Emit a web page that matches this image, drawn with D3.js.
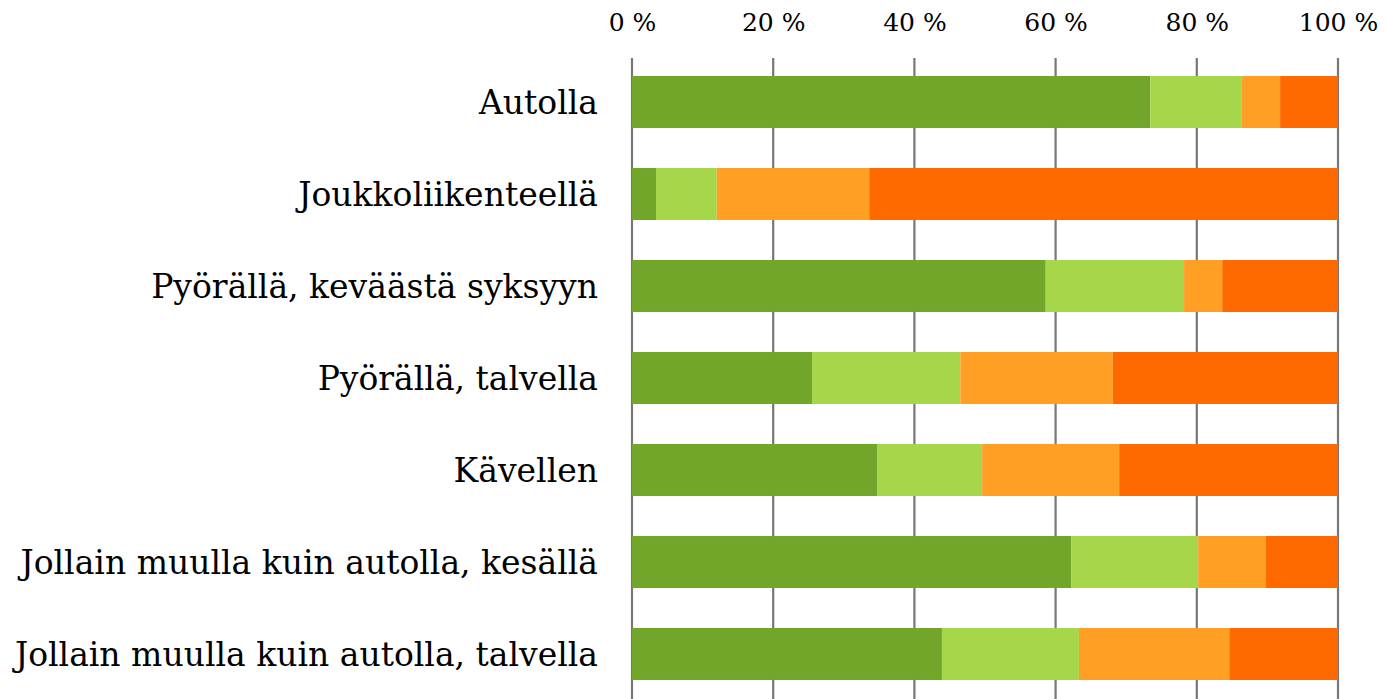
<!DOCTYPE html>
<html><head><meta charset="utf-8">
<script src="https://cdn.jsdelivr.net/npm/d3@7"></script>
<style>body{margin:0;background:#fff}svg{display:block}</style>
</head><body>
<svg id="c" width="1387" height="699"></svg>
<script>
const categories = ["Autolla","Joukkoliikenteellä","Pyörällä, keväästä syksyyn","Pyörällä, talvella","Kävellen","Jollain muulla kuin autolla, kesällä","Jollain muulla kuin autolla, talvella"];
const seriesA = [73.4, 3.4, 58.6, 25.5, 34.7, 62.2, 43.9];
const seriesB = [12.9, 8.6, 19.6, 21.0, 14.9, 18.0, 19.4];
const seriesC = [5.5, 21.6, 5.4, 21.6, 19.4, 9.6, 21.3];
const seriesD = [8.2, 66.4, 16.4, 31.9, 31.0, 10.2, 15.4];
const tickValues = [0, 20, 40, 60, 80, 100];
const colors = ["#72a62a", "#a6d64a", "#ff9f24", "#ff6a00"];

const svg = d3.select("#c");
const x = d3.scaleLinear().domain([0,100]).range([632,1338]);
const y = d3.scaleBand().domain(categories).range([56,700]).paddingInner(0.435).paddingOuter(0.2175);

const font = "'DejaVu Serif', 'Liberation Serif', serif";

// gridlines
svg.append("g").selectAll("line").data(tickValues).join("line")
  .attr("x1", d=>x(d)).attr("x2", d=>x(d)).attr("y1", 58).attr("y2", 699)
  .attr("stroke", "#777").attr("stroke-width", 2.2);

// tick labels
const xAxis = d3.axisTop(x).tickValues(tickValues).tickSize(0).tickPadding(0).tickFormat(d=>d+" %");
const ax = svg.append("g").attr("transform","translate(0,31)").call(xAxis);
ax.select(".domain").remove();
ax.selectAll("text").attr("font-family", font).attr("font-size", 25).attr("fill","#000");

// stacked bars
const rows = categories.map((c,i)=>({cat:c, v:[seriesA[i],seriesB[i],seriesC[i],seriesD[i]]}));
rows.forEach(r=>{
  let acc = 0;
  r.v.forEach((v,k)=>{
    svg.append("rect")
      .attr("x", x(acc)).attr("width", x(acc+v)-x(acc))
      .attr("y", y(r.cat)).attr("height", y.bandwidth())
      .attr("fill", colors[k]);
    acc += v;
  });
});

// category labels
svg.append("g").selectAll("text").data(categories).join("text")
  .attr("x", 598).attr("y", d=>y(d)+y.bandwidth()/2)
  .attr("dy","0.36em").attr("text-anchor","end")
  .attr("font-family", font).attr("font-size", 33).attr("fill","#000")
  .text(d=>d);
</script>
</body></html>
